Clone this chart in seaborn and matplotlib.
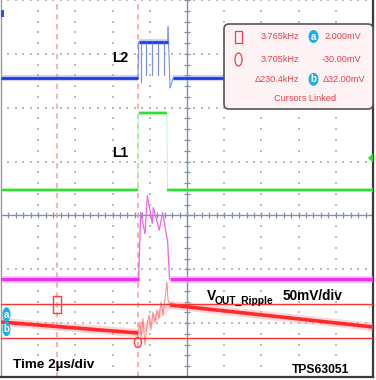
import numpy as np
import pandas as pd
import matplotlib
matplotlib.use("Agg")
import matplotlib.pyplot as plt
import seaborn as sns
from matplotlib.patches import Rectangle, Ellipse, FancyBboxPatch, Polygon
from matplotlib.transforms import Affine2D

# ---------------- data (time in µs, screen traces in divisions, ripple in mV) ----------------
l2_t = [-10, -2.63, -2.60, -2.47, -2.47, -2.47, -2.20, -2.20, -2.20, -1.88, -1.88, -1.88,
        -1.56, -1.56, -1.56, -1.24, -1.24, -1.24, -1.04, -1.02, -0.91, -0.75, 10]
l2_div = [5.55, 5.55, 6.22, 6.22, 5.47, 6.22, 6.22, 5.60, 6.22, 6.22, 5.60, 6.22,
          6.22, 5.60, 6.22, 6.22, 5.60, 6.22, 6.22, 6.50, 5.37, 5.55, 5.55]

l1_t = [-10, -2.63, -2.60, -1.08, -1.05, 10]
l1_div = [3.47, 3.47, 4.90, 4.90, 3.47, 3.47]

sw_t = [-10, -2.60, -2.49, -2.26, -2.13, -1.87, -1.81, -1.49, -1.31, -1.04, -0.94, 10]
sw_div = [1.82, 1.82, 3.05, 2.67, 3.36, 2.86, 3.14, 2.73, 3.05, 2.51, 1.82, 1.82]

ripple_t = [-10, -2.63, -0.91, 10]
ripple_mv = [-14.7, -24.9, 1.1, -19.3]
ripple_burst_t = [-2.63, -2.53, -2.47, -2.37, -2.26, -2.15, -2.04, -1.94, -1.83, -1.72,
                  -1.61, -1.51, -1.40, -1.29, -1.18, -1.08, -1.02, -0.91]
ripple_burst_mv = [-24.9, -14.7, -29.5, -11.0, -36.0, -17.5, -8.2, -22.1, -5.4, -14.7,
                   -3.6, -11.0, 3.9, -8.2, 7.6, 22.4, 5.7, 1.1]

cursor_a_mv = 2.0
cursor_b_mv = -30.0
cursor1_t = -6.98
cursor_delta_khz = 230.4
cursor2_t = cursor1_t + 1000.0 / cursor_delta_khz

info_rows = [("3.765kHz", "2.000mV"), ("3.705kHz", "-30.00mV"), ("\u0394230.4kHz", "\u039432.00mV")]

# ---------------- layout constants ----------------
W, H = 376, 380
PX_US = 372 / 20.0
PX_DIV = 377 / 7.0
RIPPLE_MV_PER_DIV = 50.0
RIPPLE_ZERO_DIV = 1.315


def mv_to_div(mv):
    return np.asarray(mv, float) / RIPPLE_MV_PER_DIV + RIPPLE_ZERO_DIV


sns.set_theme(style="white")
plt.rcParams["font.family"] = ["Liberation Sans", "DejaVu Sans"]

fig = plt.figure(figsize=(W / 100, H / 100), dpi=100)
fig.patch.set_facecolor("white")
ax = fig.add_axes([1 / W, 3 / H, 372 / W, 377 / H])
ax.set_xlim(-10, 10)
ax.set_ylim(0, 7)
ax.set_xticks([])
ax.set_yticks([])
ax.set_facecolor("white")
for s in ["right", "bottom"]:
    ax.spines[s].set_color("#3a3a3a")
    ax.spines[s].set_linewidth(1.6)
ax.spines["left"].set_color("#9a9a9a")
ax.spines["left"].set_linewidth(1.0)
ax.spines["top"].set_visible(False)

PX = Affine2D().scale(1 / W, -1 / H).translate(0, 1) + fig.transFigure

# ---------------- graticule ----------------
gx, gy = [], []
for x in np.arange(-10, 10.01, 2):
    if abs(x) < 1e-6:
        continue
    ys = np.arange(0, 7.001, 0.2)
    gx += [x] * len(ys)
    gy += list(ys)
for y in range(0, 8):
    if y == 3:
        continue
    xs = np.arange(-10, 10.001, 0.4)
    gx += list(xs)
    gy += [y] * len(xs)
ax.scatter(gx, gy, s=1.2, marker="s", color="#bcbcbc", linewidths=0, zorder=1)

axis_col = "#8490a8"
ax.axvline(0, color=axis_col, lw=1.0, zorder=1.5)
ax.axhline(3, color=axis_col, lw=1.0, zorder=1.5)
ty = np.arange(0, 7.001, 0.2)
ax.hlines(ty, -3 / PX_US, 3 / PX_US, color=axis_col, lw=0.9, zorder=1.5)
tx = np.arange(-10, 10.001, 0.4)
ax.vlines(tx, 3 - 3 / PX_DIV, 3 + 3 / PX_DIV, color=axis_col, lw=0.9, zorder=1.5)


# ---------------- traces ----------------
def segments(t, v, steep=3.0):
    t = np.asarray(t, float)
    v = np.asarray(v, float)
    rows = []
    for i in range(len(t) - 1):
        dx = abs(t[i + 1] - t[i]) * PX_US
        dy = abs(v[i + 1] - v[i]) * PX_DIV
        kind = "thin" if dy > steep * max(dx, 1e-9) else "thick"
        rows += [(i, kind, t[i], v[i]), (i, kind, t[i + 1], v[i + 1])]
    return pd.DataFrame(rows, columns=["seg", "kind", "t", "v"])


def draw_trace(t, v, core, fuzz, lw, fuzz_lw, thin_col, thin_lw, z, fa=0.55):
    df = segments(t, v)
    thin = df[df.kind == "thin"]
    thick = df[df.kind == "thick"]
    if len(thin):
        sns.lineplot(data=thin, x="t", y="v", units="seg", estimator=None, sort=False,
                     color=thin_col, lw=thin_lw, ax=ax, legend=False, zorder=z)
    sns.lineplot(data=thick, x="t", y="v", units="seg", estimator=None, sort=False,
                 color=fuzz, lw=fuzz_lw, alpha=fa, ax=ax, legend=False, zorder=z,
                 solid_capstyle="butt")
    sns.lineplot(data=thick, x="t", y="v", units="seg", estimator=None, sort=False,
                 color=core, lw=lw, ax=ax, legend=False, zorder=z + 0.1,
                 solid_capstyle="butt")


draw_trace(l2_t, l2_div, "#1f3be6", "#8a9af4", 2.0, 4.0, "#7f90f5", 0.8, 3)
draw_trace(l1_t, l1_div, "#2fe02f", "#a4f2a4", 1.7, 3.0, "#b8f4b8", 0.6, 3)
draw_trace(sw_t, sw_div, "#f22ef2", "#fb9cfb", 2.4, 4.8, "#f060f0", 0.9, 3)

# ripple
rt = np.asarray(ripple_t, float)
rv = mv_to_div(ripple_mv)
bt = np.asarray(ripple_burst_t, float)
bv = mv_to_div(ripple_burst_mv)
sns.lineplot(x=[bt[0], bt[-1]], y=[bv[0], bv[-1]], color="#ffa0a0", lw=5.0, alpha=0.4,
             ax=ax, legend=False, zorder=3)
sns.lineplot(x=bt, y=bv, sort=False, color="#ff6a6a", lw=0.7, alpha=0.8, ax=ax,
             legend=False, zorder=3)
for sl in (slice(0, 2), slice(2, 4)):
    sns.lineplot(x=rt[sl], y=rv[sl], color="#ff9a9a", lw=6.0, alpha=0.4, ax=ax,
                 legend=False, zorder=3, solid_capstyle="butt")
    sns.lineplot(x=rt[sl], y=rv[sl], color="#ff2a2a", lw=2.6, ax=ax,
                 legend=False, zorder=3.1, solid_capstyle="butt")

# cursors
red = "#ff3030"
ax.axhline(mv_to_div(cursor_a_mv), color=red, lw=1.0, zorder=4)
ax.axhline(mv_to_div(cursor_b_mv), color=red, lw=1.0, zorder=4)
for ct in (cursor1_t, cursor2_t):
    ax.axvline(ct, color="#ff9a9a", lw=1.1, dashes=(3.5, 3.0), zorder=2)
ax.add_patch(Rectangle((cursor1_t - 4 / PX_US, mv_to_div(cursor_a_mv) - 8.5 / PX_DIV),
                       8 / PX_US, 17 / PX_DIV, fill=False, ec="#ff4040", lw=1.0, zorder=5))
ax.add_patch(Ellipse((cursor2_t, mv_to_div(cursor_b_mv) - 4 / PX_DIV), 7 / PX_US, 10 / PX_DIV,
                     fill=False, ec="#ff4040", lw=1.0, zorder=5))

# channel markers
cyan = "#1eaeea"
for yy, letter in ((314.5, "a"), (329, "b")):
    ax.add_patch(Ellipse((6.5, yy), 8, 14.5, transform=PX, fc=cyan, ec="none",
                         zorder=6, clip_on=False))
    fig.text(6.5, yy, letter, transform=PX, ha="center", va="center", color="white",
             fontsize=7, fontweight="bold", zorder=7)
ax.add_patch(Rectangle((1, 10), 3, 7, transform=PX, fc="#3050e8", ec="none", zorder=6,
                       clip_on=False))
ax.add_patch(Polygon([[368, 158], [373, 153.5], [373, 162.5]], closed=True, transform=PX,
                     fc="#30d830", ec="none", zorder=6, clip_on=False))

# ---------------- info box ----------------
box = FancyBboxPatch((224, 24), 149, 85, boxstyle="round,pad=0,rounding_size=5",
                     transform=PX, fc="#fdf3f5", ec="#555555", lw=1.2, zorder=8,
                     clip_on=False)
ax.add_patch(box)
bcol = "#ef3c46"
bfs = 6.6
ax.add_patch(Rectangle((235, 30.5), 6.5, 12.5, transform=PX, fill=False, ec=bcol, lw=0.9,
                       zorder=9, clip_on=False))
ax.add_patch(Ellipse((238.5, 59.5), 7, 13, transform=PX, fill=False, ec=bcol, lw=0.9,
                     zorder=9, clip_on=False))
row_y = [36.7, 59.3, 79.3]
for i, (freq, volt) in enumerate(info_rows):
    if i < 2:
        fig.text(280, row_y[i], freq, transform=PX, ha="center", va="center", color=bcol,
                 fontsize=bfs, zorder=9)
        fig.text(361, row_y[i], volt, transform=PX, ha="right", va="center", color=bcol,
                 fontsize=bfs, zorder=9)
    else:
        fig.text(299, row_y[i], freq, transform=PX, ha="right", va="center", color=bcol,
                 fontsize=bfs, zorder=9)
        fig.text(365, row_y[i], volt, transform=PX, ha="right", va="center", color=bcol,
                 fontsize=bfs, zorder=9)
for yy, letter in ((36.5, "a"), (79.3, "b")):
    ax.add_patch(Ellipse((313.5, yy), 10, 13, transform=PX, fc=cyan, ec="none", zorder=9,
                         clip_on=False))
    fig.text(313.5, yy, letter, transform=PX, ha="center", va="center", color="white",
             fontsize=7, fontweight="bold", zorder=10)
fig.text(305, 98.3, "Cursors Linked", transform=PX, ha="center", va="center", color=bcol,
         fontsize=bfs, zorder=9)

# ---------------- labels ----------------
lab = dict(transform=PX, color="black", fontweight="bold", zorder=9)
fig.text(120, 58, "L2", ha="center", va="center", fontsize=10, **lab)
fig.text(120, 153, "L1", ha="center", va="center", fontsize=10, **lab)
fig.text(13, 368, "Time 2\u00b5s/div", ha="left", va="baseline", fontsize=9.7, **lab)
fig.text(292, 373, "TPS63051", ha="left", va="baseline", fontsize=8.7, **lab)
fig.text(207, 300, "V", ha="left", va="baseline", fontsize=10, **lab)
fig.text(215, 304, "OUT_Ripple", ha="left", va="baseline", fontsize=7.4, **lab)
fig.text(283, 300, "50mV/div", ha="left", va="baseline", fontsize=9.8, **lab)

fig.savefig("out.png", dpi=100, facecolor="white")
